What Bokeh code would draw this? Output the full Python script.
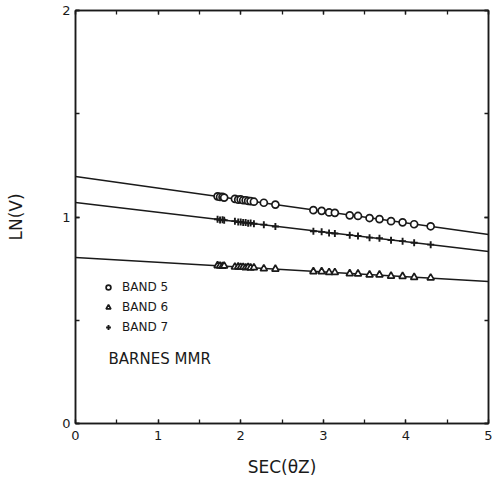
from bokeh.plotting import figure
from bokeh.models import (Range1d, LinearAxis, FixedTicker, Label, Legend, LegendItem)
from bokeh.embed import file_html
from bokeh.resources import INLINE

# ---- data ----
sec_theta = [1.72, 1.75, 1.78, 1.80, 1.93, 1.97, 2.00, 2.03, 2.06, 2.09, 2.12, 2.16,
             2.28, 2.42, 2.88, 2.98, 3.07, 3.14, 3.32, 3.42, 3.56, 3.68, 3.82, 3.96,
             4.10, 4.30]
band5 = [1.100, 1.097, 1.097, 1.094, 1.088, 1.084, 1.085, 1.081, 1.081, 1.078, 1.077, 1.074,
         1.069, 1.060, 1.033, 1.030, 1.022, 1.020, 1.008, 1.005, 0.995, 0.990, 0.980, 0.974,
         0.965, 0.955]
band6 = [0.765, 0.763, 0.762, 0.763, 0.758, 0.759, 0.757, 0.757, 0.755, 0.757, 0.754, 0.755,
         0.750, 0.748, 0.736, 0.736, 0.732, 0.732, 0.726, 0.725, 0.720, 0.720, 0.714, 0.713,
         0.708, 0.705]
band7 = [0.989, 0.986, 0.987, 0.984, 0.980, 0.976, 0.976, 0.973, 0.973, 0.970, 0.971, 0.967,
         0.963, 0.954, 0.931, 0.928, 0.923, 0.920, 0.912, 0.908, 0.900, 0.897, 0.888, 0.883,
         0.875, 0.866]
fit_x = [0, 5]
fit5 = [1.196, 0.915]
fit6 = [0.804, 0.688]
fit7 = [1.070, 0.833]

x_ticks = [0, 1, 2, 3, 4, 5]
y_ticks = [0, 1, 2]
legend_labels = ["BAND 5", "BAND 6", "BAND 7"]
note_text = "BARNES MMR"
x_label = "SEC(θZ)"
y_label = "LN(V)"

FONT = "DejaVu Sans"
INK = "#1a1a1a"

p = figure(frame_width=413, frame_height=413,
           x_range=Range1d(0, 5), y_range=Range1d(0, 2),
           output_backend="svg", toolbar_location=None,
           min_border_left=75, min_border_right=5, min_border_top=10,
           min_border_bottom=50, background_fill_color="white",
           border_fill_color="white")
p.xgrid.visible = False
p.ygrid.visible = False
p.outline_line_color = INK
p.outline_line_width = 1.5


def style_axis(ax, ticks, show_labels=True):
    ax.ticker = FixedTicker(ticks=ticks, minor_ticks=[t * 0.5 for t in range(0, 11)])
    ax.axis_line_color = INK
    ax.axis_line_width = 1.5
    ax.major_tick_in = 4
    ax.major_tick_out = 0
    ax.minor_tick_in = 4
    ax.minor_tick_out = 0
    ax.major_tick_line_color = INK
    ax.minor_tick_line_color = INK
    ax.major_tick_line_width = 1.3
    ax.minor_tick_line_width = 1.3
    ax.major_label_text_font = FONT
    ax.major_label_text_font_size = "13px"
    ax.major_label_text_color = INK
    ax.major_label_standoff = 3
    ax.axis_label_text_font = FONT
    ax.axis_label_text_font_style = "normal"
    ax.axis_label_text_color = INK
    ax.axis_label_text_font_size = "17px"
    if not show_labels:
        ax.major_label_overrides = {t: "" for t in ticks}
        ax.major_label_standoff = 0


style_axis(p.xaxis[0], x_ticks)
style_axis(p.yaxis[0], y_ticks)
p.yaxis[0].major_label_standoff = 5
p.xaxis[0].major_label_standoff = 7
p.xaxis[0].axis_label = x_label
p.xaxis[0].axis_label_standoff = 14
p.yaxis[0].axis_label = y_label
p.yaxis[0].axis_label_standoff = 33

top = LinearAxis()
style_axis(top, x_ticks, show_labels=False)
p.add_layout(top, "above")
right = LinearAxis()
style_axis(right, y_ticks, show_labels=False)
p.add_layout(right, "right")

for fy in (fit5, fit6, fit7):
    p.line(fit_x, fy, line_color=INK, line_width=1.4)

r5 = p.scatter(sec_theta, band5, marker="circle", size=7, fill_color="white",
               line_color=INK, line_width=1.7)
r6 = p.scatter(sec_theta, band6, marker="triangle", size=7, fill_color="white",
               line_color=INK, line_width=1.7)
r7 = p.scatter(sec_theta, band7, marker="cross", size=7,
               line_color=INK, line_width=1.9)

legend = Legend(items=[LegendItem(label=legend_labels[0], renderers=[r5]),
                       LegendItem(label=legend_labels[1], renderers=[r6]),
                       LegendItem(label=legend_labels[2], renderers=[r7])],
                location=(27, 86), padding=0, margin=0, spacing=0,
                glyph_width=12, glyph_height=20, label_height=20,
                label_standoff=8, border_line_alpha=0, background_fill_alpha=0,
                label_text_font=FONT, label_text_font_size="12px",
                label_text_color=INK, label_text_baseline="middle")
p.add_layout(legend, "center")

p.add_layout(Label(x=0.40, y=0.31, text=note_text, text_font=FONT,
                   text_font_size="15px", text_color=INK, text_baseline="middle"))

open("out.html", "w").write(file_html(p, INLINE))
